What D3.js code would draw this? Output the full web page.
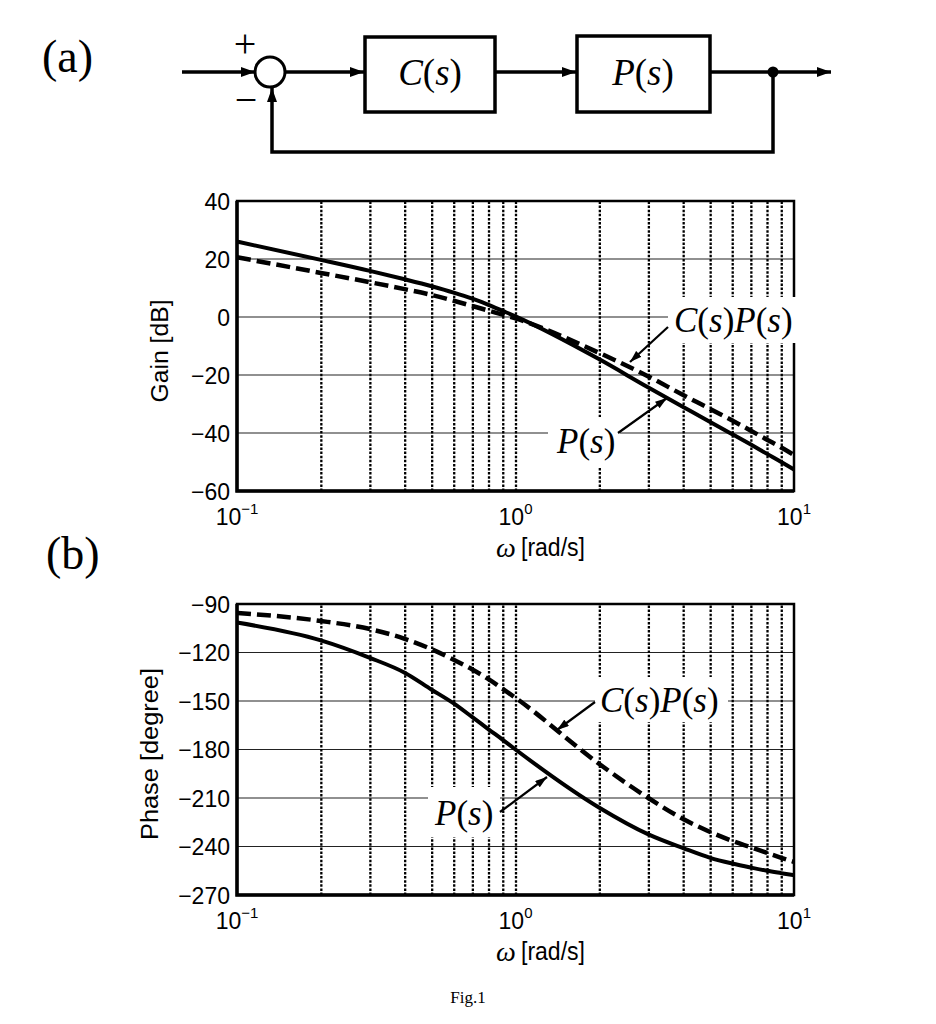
<!DOCTYPE html>
<html><head><meta charset="utf-8">
<script src="https://cdn.jsdelivr.net/npm/d3@7"></script>
<style>body{margin:0;background:#fff}</style>
</head><body>
<svg id="chart" width="936" height="1024"></svg>
<script>
// ---------- data ----------
const omega   = [0.1,0.2,0.3,0.4,0.5,0.6,0.7,0.8,0.9,1,2,3,4,5,6,7,8,9,10];
const gainP   = [26.0,19.7,15.9,13.0,10.6,8.4,6.3,4.2,2.1,0.2,-14.6,-24.3,-31.0,-36.2,-40.4,-44.0,-47.2,-50.0,-52.6];
const gainCP  = [20.6,15.2,12.0,9.6,7.6,5.6,3.8,2.2,0.8,-0.5,-12.4,-20.5,-26.9,-31.7,-35.7,-39.2,-42.3,-45.0,-47.6];
const phaseP  = [-101.5,-112.5,-123.3,-132.5,-143.0,-151.5,-160.0,-167.5,-174.0,-180.0,-216.0,-232.5,-241.0,-247.0,-250.5,-253.0,-255.0,-256.5,-257.8];
const phaseCP = [-95.5,-100.5,-105.5,-111.5,-118.0,-124.5,-130.5,-136.5,-142.5,-148.0,-189.0,-210.0,-223.0,-231.0,-236.5,-240.5,-244.0,-247.0,-249.5];
const gainTicks  = [40,20,0,-20,-40,-60];
const phaseTicks = [-90,-120,-150,-180,-210,-240,-270];
const decadeTicks = [0.1,1,10];
const decadeExps  = ["\u22121","0","1"];

const svg = d3.select("#chart");
const SERIF = "'Liberation Serif','Times New Roman',serif";
const SANS  = "'Liberation Sans',Arial,sans-serif";

// markers
const defs = svg.append("defs");
defs.append("marker").attr("id","ah").attr("viewBox","0 0 14 10").attr("refX",14).attr("refY",5)
  .attr("markerWidth",14).attr("markerHeight",10).attr("markerUnits","userSpaceOnUse").attr("orient","auto")
  .append("path").attr("d","M0,0L14,5L0,10Z").attr("fill","#000");
defs.append("marker").attr("id","ah2").attr("viewBox","0 0 12 8").attr("refX",12).attr("refY",4)
  .attr("markerWidth",12).attr("markerHeight",8).attr("markerUnits","userSpaceOnUse").attr("orient","auto")
  .append("path").attr("d","M0,0L12,4L0,8Z").attr("fill","#000");

// ---------- block diagram ----------
const bd = svg.append("g").attr("stroke","#000").attr("stroke-width",3.5).attr("fill","none");
bd.append("line").attr("x1",182).attr("y1",72).attr("x2",255).attr("y2",72).attr("marker-end","url(#ah)");
bd.append("circle").attr("cx",270).attr("cy",72).attr("r",15).attr("stroke-width",3);
bd.append("line").attr("x1",285).attr("y1",72).attr("x2",364).attr("y2",72).attr("marker-end","url(#ah)");
bd.append("rect").attr("x",365).attr("y",37).attr("width",130).attr("height",75);
bd.append("line").attr("x1",495).attr("y1",72).attr("x2",576).attr("y2",72).attr("marker-end","url(#ah)");
bd.append("rect").attr("x",577).attr("y",36).attr("width",133).attr("height",76);
bd.append("line").attr("x1",710).attr("y1",72).attr("x2",831).attr("y2",72).attr("marker-end","url(#ah)");
bd.append("path").attr("d","M773,72V152H272V88").attr("marker-end","url(#ah)");
svg.append("circle").attr("cx",773).attr("cy",72).attr("r",5.5).attr("fill","#000");
svg.append("text").attr("x",245).attr("y",57).attr("text-anchor","middle").attr("font-family",SERIF).attr("font-size",40).text("+");
svg.append("text").attr("x",246).attr("y",113).attr("text-anchor","middle").attr("font-family",SERIF).attr("font-size",40).text("\u2212");

function mathLabel(g, x, y, parts, size, anchor){
  const t = g.append("text").attr("x",x).attr("y",y).attr("font-family",SERIF).attr("font-size",size)
    .attr("text-anchor",anchor||"start").attr("fill","#000");
  parts.forEach(p=>{ t.append("tspan").attr("font-style",p[1]?"italic":"normal").text(p[0]); });
  return t;
}
const CS = [["C",1],["(",0],["s",1],[")",0]];
const PS = [["P",1],["(",0],["s",1],[")",0]];
mathLabel(svg,430,85,CS,37,"middle");
mathLabel(svg,643,85,PS,37,"middle");
svg.append("text").attr("x",42).attr("y",72).attr("font-family",SERIF).attr("font-size",46).text("(a)");
svg.append("text").attr("x",46).attr("y",569).attr("font-family",SERIF).attr("font-size",46).text("(b)");
svg.append("text").attr("x",468).attr("y",1003).attr("text-anchor","middle").attr("font-family",SERIF).attr("font-size",17).text("Fig.1");

// ---------- Bode plots ----------
const x = d3.scaleLog().domain([0.1,10]).range([237,794]);
const minorTicks = x.ticks().filter(d=> d>0.1+1e-9 && d<10-1e-9);

function plot(cfg){
  const y = d3.scaleLinear().domain(cfg.domain).range([cfg.bottom,cfg.top]);
  const g = svg.append("g");
  const h = cfg.bottom - cfg.top;
  // horizontal grid
  g.append("g").selectAll("line").data(cfg.ticks.slice(1,-1)).join("line")
    .attr("x1",x.range()[0]).attr("x2",x.range()[1]).attr("y1",d=>y(d)).attr("y2",d=>y(d))
    .attr("stroke","#222").attr("stroke-width",1.2);
  // vertical dotted grid through an axis
  const vg = g.append("g").attr("transform",`translate(0,${cfg.bottom})`)
    .call(d3.axisBottom(x).tickValues(minorTicks).tickSize(-h).tickFormat(""));
  vg.select(".domain").remove();
  vg.selectAll("line").attr("stroke","#000").attr("stroke-width",2.3).attr("stroke-dasharray","2.5,1.6");
  // frame
  g.append("rect").attr("x",x.range()[0]).attr("y",cfg.top).attr("width",x.range()[1]-x.range()[0]).attr("height",h)
    .attr("fill","none").attr("stroke","#000").attr("stroke-width",2.5);
  g.append("path").attr("d",`M${x.range()[0]},${cfg.top}V${cfg.bottom}H${x.range()[1]}`)
    .attr("fill","none").attr("stroke","#000").attr("stroke-width",3.5);
  // y tick labels
  const ya = g.append("g").attr("transform",`translate(${x.range()[0]},0)`)
    .call(d3.axisLeft(y).tickValues(cfg.ticks).tickSize(0).tickPadding(7)
      .tickFormat(d=> d<0 ? "\u2212"+Math.abs(d) : String(d)));
  ya.select(".domain").remove();
  ya.selectAll("text").attr("font-family",SANS).attr("font-size",23).attr("fill","#000").attr("dy","0.36em");
  // x tick labels (10^n)
  decadeTicks.forEach((d,i)=>{
    const t = g.append("text").attr("x",x(d)).attr("y",cfg.bottom+34).attr("text-anchor","middle")
      .attr("font-family",SANS).attr("font-size",23);
    t.append("tspan").text("10");
    t.append("tspan").attr("font-size",15).attr("dy",-11).text(decadeExps[i]);
  });
  // x title
  g.append("text").attr("x",506).attr("y",cfg.bottom+66).attr("text-anchor","middle")
    .attr("font-family",SERIF).attr("font-style","italic").attr("font-size",28).text("\u03c9");
  g.append("text").attr("x",521).attr("y",cfg.bottom+65).attr("font-family",SANS)
    .attr("font-size",25).attr("textLength",64).attr("lengthAdjust","spacingAndGlyphs").text("[rad/s]");
  // y title
  g.append("text").attr("transform",`translate(${cfg.titleX},${cfg.titleY}) rotate(-90)`)
    .attr("text-anchor","middle").attr("font-family",SANS).attr("font-size",23)
    .attr("textLength",cfg.titleLen).attr("lengthAdjust","spacingAndGlyphs").text(cfg.title);
  // white label boxes
  cfg.boxes.forEach(b=> g.append("rect").attr("x",b[0]).attr("y",b[1]).attr("width",b[2]-b[0]).attr("height",b[3]-b[1]).attr("fill","#fff"));
  // curves
  const line = d3.line().x((d,i)=>x(omega[i])).y(d=>y(d)).curve(d3.curveMonotoneX);
  g.append("path").attr("d",line(cfg.solid)).attr("fill","none").attr("stroke","#000").attr("stroke-width",4);
  g.append("path").attr("d",line(cfg.dashed)).attr("fill","none").attr("stroke","#000").attr("stroke-width",4.5)
    .attr("stroke-dasharray","14,6");
  // annotations
  mathLabel(g,cfg.cpLabel[0],cfg.cpLabel[1],CS.concat(PS),35,"start");
  mathLabel(g,cfg.pLabel[0],cfg.pLabel[1],PS,35,"start");
  cfg.arrows.forEach(a=> g.append("line").attr("x1",a[0]).attr("y1",a[1]).attr("x2",a[2]).attr("y2",a[3])
    .attr("stroke","#000").attr("stroke-width",2.2).attr("marker-end","url(#ah2)"));
}

plot({domain:[-60,40], top:201, bottom:491, ticks:gainTicks, solid:gainP, dashed:gainCP,
  title:"Gain [dB]", titleX:168, titleY:351, titleLen:103,
  boxes:[[668,297,801,343],[548,417,620,467]],
  cpLabel:[674,332], pLabel:[557,453],
  arrows:[[668,327,630,362],[618,433,667,398]]});

plot({domain:[-270,-90], top:604, bottom:895, ticks:phaseTicks, solid:phaseP, dashed:phaseCP,
  title:"Phase [degree]", titleX:158, titleY:754, titleLen:172,
  boxes:[[595,677,728,722],[428,787,500,837]],
  cpLabel:[600,712], pLabel:[435,825],
  arrows:[[595,702,557,730],[500,812,547,777]]});
</script>
</body></html>
